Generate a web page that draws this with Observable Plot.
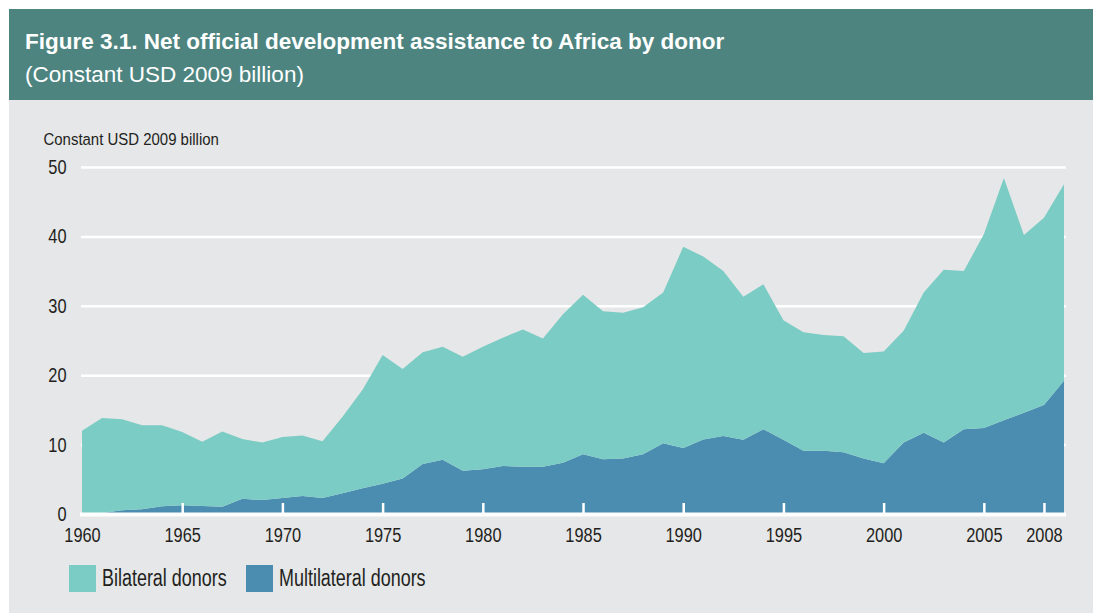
<!DOCTYPE html>
<html>
<head>
<meta charset="utf-8">
<script src="https://cdn.jsdelivr.net/npm/d3@7"></script>
<script src="https://cdn.jsdelivr.net/npm/@observablehq/plot@0.6"></script>
<style>
  body { margin: 0; background: #ffffff; }
  #wrap { position: absolute; left: 9px; top: 9px; width: 1084px; height: 604px; background: #e6e7e8; overflow: hidden; }
  #banner { position: absolute; left: 0; top: 0; width: 1084px; height: 91px; background: #4d8480; color: #ffffff; font-family: "Liberation Sans", Arial, Helvetica, sans-serif; }
  #title { position: absolute; left: 16px; top: 22px; font-size: 22.5px; line-height: 22.5px; font-weight: bold; white-space: nowrap; }
  #subtitle { position: absolute; left: 16px; top: 55px; font-size: 22.5px; line-height: 22.5px; white-space: nowrap; }
  #chart { position: absolute; left: 0; top: 91px; }
  .item { position: absolute; top: 556px; height: 27px; display: flex; align-items: center; font-family: "Liberation Sans", Arial, sans-serif; font-size: 23px; color: #231f20; white-space: nowrap; }
  .sw { width: 27px; height: 27px; margin-right: 6px; flex: none; }
  .lab { display: inline-block; transform: scaleX(0.78); transform-origin: left center; }
</style>
</head>
<body>
<div id="wrap">
  <div id="banner">
    <div id="title">Figure 3.1. Net official development assistance to Africa by donor</div>
    <div id="subtitle">(Constant USD 2009 billion)</div>
  </div>
  <div id="chart"></div>
</div>
<script>
const years = [1960,1961,1962,1963,1964,1965,1966,1967,1968,1969,
               1970,1971,1972,1973,1974,1975,1976,1977,1978,1979,
               1980,1981,1982,1983,1984,1985,1986,1987,1988,1989,
               1990,1991,1992,1993,1994,1995,1996,1997,1998,1999,
               2000,2001,2002,2003,2004,2005,2006,2007,2008,2009];

const multilateral = [0.0,0.15,0.55,0.7,1.1,1.25,1.15,1.05,2.2,2.0,
                      2.3,2.6,2.3,3.0,3.7,4.35,5.1,7.2,7.8,6.25,
                      6.45,6.9,6.8,6.8,7.4,8.6,7.9,8.0,8.6,10.2,
                      9.5,10.75,11.25,10.7,12.2,10.7,9.1,9.1,8.9,8.0,
                      7.3,10.3,11.7,10.3,12.2,12.4,13.5,14.6,15.7,19.2];

const bilateral = [12.0,13.7,13.1,12.1,11.7,10.55,9.25,10.85,8.6,8.3,
                   8.8,8.7,8.2,11.0,14.2,18.55,15.8,16.1,16.3,16.4,
                   17.65,18.5,19.8,18.5,21.4,23.0,21.3,21.0,21.2,21.7,
                   29.0,26.35,23.75,20.6,20.9,17.2,17.1,16.7,16.7,15.2,
                   16.1,16.1,20.2,24.9,22.8,27.9,34.9,25.6,27.0,28.3];

const seriesNames = ["Multilateral donors", "Bilateral donors"];
const seriesColors = ["#4a8db0", "#7bccc4"];
const legendOrder = ["Bilateral donors", "Multilateral donors"];

const yTicks = [0, 10, 20, 30, 40, 50];
const gridValues = [10, 20, 30, 40, 50];
const xTickYears = [1960,1965,1970,1975,1980,1985,1990,1995,2000,2005,2008];
const xTickMarks = [1965,1970,1975,1980,1985,1990,1995,2000,2005,2008];
const yAxisTitle = "Constant USD 2009 billion";

const rows = [];
years.forEach((yr, i) => rows.push({year: yr, series: seriesNames[0], value: multilateral[i]}));
years.forEach((yr, i) => rows.push({year: yr, series: seriesNames[1], value: bilateral[i]}));

const chart = Plot.plot({
  width: 1084,
  height: 454,
  marginLeft: 73,
  marginRight: 29,
  marginTop: 67,
  marginBottom: 40,
  style: { background: "transparent", fontFamily: '"Liberation Sans", Arial, sans-serif', color: "#231f20", overflow: "visible" },
  x: { type: "linear", domain: [1960, 2009] },
  y: { domain: [0, 50] },
  color: { domain: seriesNames, range: seriesColors },
  marks: [
    Plot.ruleY(gridValues, { stroke: "#ffffff", strokeWidth: 2.5, insetLeft: -1, insetRight: -2 }),
    Plot.areaY(rows, { x: "year", y: "value", fill: "series", order: seriesNames }),
    Plot.ruleY([0], { stroke: "#ffffff", strokeWidth: 4, insetLeft: -2, insetRight: -2 }),
    Plot.axisX({ ticks: xTickMarks, tickSize: -11, stroke: "#ffffff", strokeWidth: 2.5, fill: "none", label: null }),
    Plot.axisX({ ticks: xTickYears, tickSize: 0, tickPadding: 13, tickFormat: d => String(d), fontSize: 21, fill: "#231f20", label: null }),
    Plot.axisY({ ticks: yTicks, tickSize: 0, tickPadding: 16, fontSize: 20, fill: "#231f20", label: null }),
    Plot.text([yAxisTitle], { frameAnchor: "top-left", text: d => d, dx: -39, dy: -23, textAnchor: "start", lineAnchor: "bottom", fontSize: 17, fill: "#231f20" })
  ]
});

// condensed look: narrow each text horizontally around its own anchor
function narrowTexts(selector, s) {
  chart.querySelectorAll(selector).forEach(t => {
    const ax = parseFloat(t.getAttribute("x")) || 0;
    const prev = t.getAttribute("transform") || "";
    t.setAttribute("transform", `${prev} translate(${ax},0) scale(${s},1) translate(${-ax},0)`.trim());
  });
}
narrowTexts('[aria-label="x-axis tick label"] text', 0.78);
narrowTexts('[aria-label="y-axis tick label"] text', 0.82);
narrowTexts('[aria-label="text"] text', 0.88);

document.getElementById("chart").appendChild(chart);

const wrap = document.getElementById("wrap");
const legendLeft = [60, 237];
legendOrder.forEach((name, k) => {
  const item = document.createElement("div");
  item.className = "item";
  item.style.left = legendLeft[k] + "px";
  const sw = document.createElement("div");
  sw.className = "sw";
  sw.style.background = seriesColors[seriesNames.indexOf(name)];
  const lab = document.createElement("span");
  lab.className = "lab";
  lab.textContent = name;
  item.appendChild(sw);
  item.appendChild(lab);
  wrap.appendChild(item);
});
</script>
</body>
</html>
